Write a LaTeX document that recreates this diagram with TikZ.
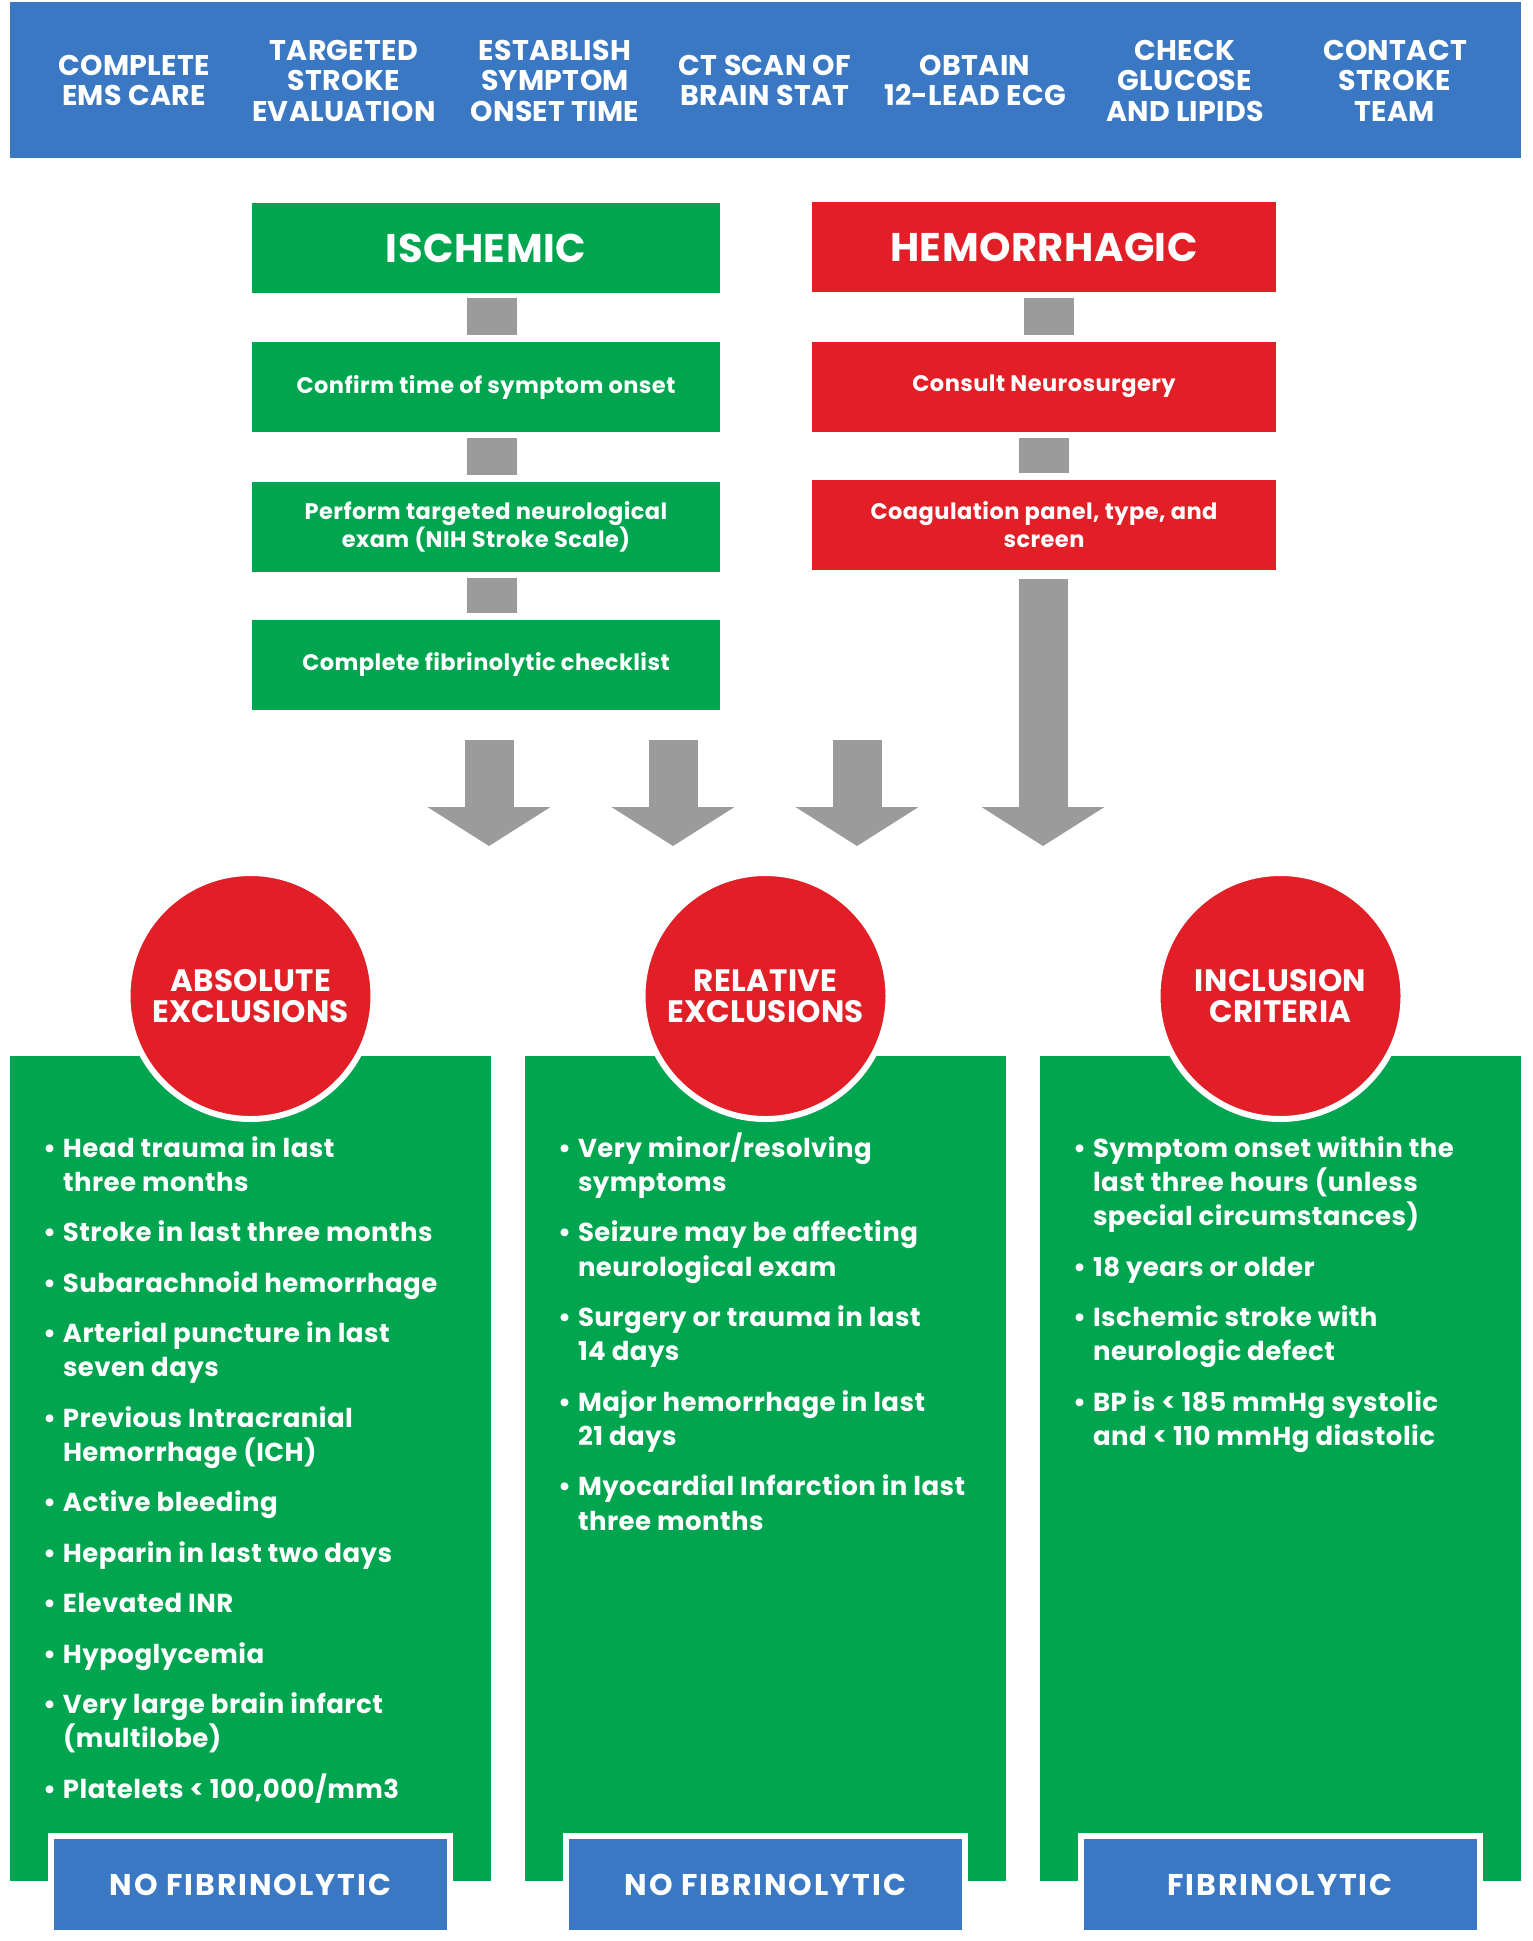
\documentclass[tikz,border=0pt]{standalone}
\usepackage{fontspec}
\setmainfont{Poppins}
\usetikzlibrary{arrows.meta}
\definecolor{hdrblue}{RGB}{58,120,196}
\definecolor{okgreen}{RGB}{0,165,80}
\definecolor{alertred}{RGB}{226,30,38}
\definecolor{bargrey}{RGB}{155,155,155}
\newcommand\bl{\makebox[20pt][l]{\textbullet}}
\newcommand\tracked[1]{\addfontfeature{LetterSpace=#1}}
\begin{document}
\begin{tikzpicture}[x=1pt,y=-1pt,
  every node/.style={text=white, inner sep=0pt, outer sep=0pt},
  hdr/.style={align=center, font=\bfseries\fontsize{28.5}{30.5}\selectfont\tracked{1}},
  stepbox/.style={minimum width=468pt, minimum height=90pt, align=center,
    font=\bfseries\fontsize{22.5}{28}\selectfont\tracked{2}},
  isch/.style={stepbox, fill=okgreen},
  hemo/.style={stepbox, fill=alertred},
  title/.style={font=\bfseries\fontsize{40}{42}\selectfont\tracked{1.2}},
  link/.style={draw=bargrey, line width=50pt},
  bigarrow/.style={draw=bargrey, line width=49pt,
    -{Triangle[width=123pt,length=39pt,line width=0pt,fill=bargrey]}},
  panel/.style={fill=okgreen, minimum width=481pt, minimum height=825pt},
  circ/.style={circle, fill=alertred, draw=white, line width=6pt,
    minimum size=246pt, align=center, font=\bfseries\fontsize{31}{31}\selectfont\tracked{1}},
  outcome/.style={fill=hdrblue, draw=white, line width=6pt, minimum width=399pt,
    minimum height=97pt, font=\bfseries\fontsize{30}{30}\selectfont\tracked{6.5}},
  items/.style={anchor=base west, align=left,
    font=\bfseries\fontsize{26}{34.3}\selectfont\tracked{1.8}}
]
\useasboundingbox (0,0) rectangle (1532,1941);
\fill[white] (0,0) rectangle (1532,1941);

% header band with the seven initial steps
\fill[hdrblue] (10,2) rectangle (1521,158);
\node[hdr] (h1) at (134,80.5) {COMPLETE\\EMS CARE};
\node[hdr] (h2) at (344,80.5) {TARGETED\\STROKE\\EVALUATION};
\node[hdr] (h3) at (555,80.5) {ESTABLISH\\SYMPTOM\\ONSET TIME};
\node[hdr] (h4) at (765,80.5) {CT SCAN OF\\BRAIN STAT};
\node[hdr] (h5) at (975,80.5) {OBTAIN\\12-LEAD ECG};
\node[hdr] (h6) at (1185,80.5) {CHECK\\GLUCOSE\\AND LIPIDS};
\node[hdr] (h7) at (1395,80.5) {CONTACT\\STROKE\\TEAM};

% ischemic branch
\node[isch, title] (isc) at (486,248) {ISCHEMIC};
\node[isch] (conf) at (486,387) {Confirm time of symptom onset};
\node[isch] (perf) at (486,526.5) {Perform targeted neurological\\exam (NIH Stroke Scale)};
\node[isch] (chk) at (486,664.5) {Complete fibrinolytic checklist};

% hemorrhagic branch
\node[hemo, title, minimum width=464pt] (hem) at (1044,247) {HEMORRHAGIC};
\node[hemo, minimum width=464pt] (cons) at (1044,386.5) {Consult Neurosurgery};
\node[hemo, minimum width=464pt] (coag) at (1044,525) {Coagulation panel, type, and\\screen};

% short grey links between the steps
\draw[link, shorten <=5pt, shorten >=7pt] ([xshift=6pt]isc.south) -- ([xshift=6pt]conf.north);
\draw[link, shorten <=6pt, shorten >=7pt] ([xshift=6pt]conf.south) -- ([xshift=6pt]perf.north);
\draw[link, shorten <=6pt, shorten >=7pt] ([xshift=6pt]perf.south) -- ([xshift=6pt]chk.north);
\draw[link, shorten <=6pt, shorten >=7pt] ([xshift=5pt]hem.south) -- ([xshift=5pt]cons.north);
\draw[link, shorten <=6pt, shorten >=7pt] (cons.south) -- (coag.north);

% big arrows down to the criteria
\coordinate (a1s) at (489,740);  \coordinate (a1e) at (489,846);
\coordinate (a2s) at (673,740);  \coordinate (a2e) at (673,846);
\coordinate (a3s) at (857,740);  \coordinate (a3e) at (857,846);
\coordinate (a4e) at (1043,846);
\draw[bigarrow] (a1s) -- (a1e);
\draw[bigarrow] (a2s) -- (a2e);
\draw[bigarrow] (a3s) -- (a3e);
\draw[bigarrow, shorten <=9pt] ([xshift=-1pt]coag.south) -- (a4e);

% criteria panels
\node[panel] (p1) at (250.5,1468.5) {};
\node[panel] (p2) at (765.5,1468.5) {};
\node[panel] (p3) at (1280.5,1468.5) {};

\node[circ] (c1) at (250.5,996) {ABSOLUTE\\EXCLUSIONS};
\node[circ] (c2) at (765.5,996) {RELATIVE\\EXCLUSIONS};
\node[circ] (c3) at (1280.5,996) {INCLUSION\\CRITERIA};

\node[items] (l1) at (43,1157) {\begin{tabular}[t]{@{}l@{}l@{}}
\bl & Head trauma in last\\ & three months\\[16.1pt]
\bl & Stroke in last three months\\[16.1pt]
\bl & Subarachnoid hemorrhage\\[16.1pt]
\bl & Arterial puncture in last\\ & seven days\\[16.1pt]
\bl & Previous Intracranial\\ & Hemorrhage (ICH)\\[16.1pt]
\bl & Active bleeding\\[16.1pt]
\bl & Heparin in last two days\\[16.1pt]
\bl & Elevated INR\\[16.1pt]
\bl & Hypoglycemia\\[16.1pt]
\bl & Very large brain infarct\\ & (multilobe)\\[16.1pt]
\bl & Platelets < 100,000/mm3
\end{tabular}};

\node[items] (l2) at (558,1157) {\begin{tabular}[t]{@{}l@{}l@{}}
\bl & Very minor/resolving\\ & symptoms\\[16.1pt]
\bl & Seizure may be affecting\\ & neurological exam\\[16.1pt]
\bl & Surgery or trauma in last\\ & 14 days\\[16.1pt]
\bl & Major hemorrhage in last\\ & 21 days\\[16.1pt]
\bl & Myocardial Infarction in last\\ & three months
\end{tabular}};

\node[items] (l3) at (1073,1157) {\begin{tabular}[t]{@{}l@{}l@{}}
\bl & Symptom onset within the\\ & last three hours (unless\\ & special circumstances)\\[16.1pt]
\bl & 18 years or older\\[16.1pt]
\bl & Ischemic stroke with\\ & neurologic defect\\[16.1pt]
\bl & BP is < 185 mmHg systolic\\ & and < 110 mmHg diastolic
\end{tabular}};

% outcomes
\node[outcome] (o1) at (250.5,1884.5) {NO FIBRINOLYTIC};
\node[outcome] (o2) at (765.5,1884.5) {NO FIBRINOLYTIC};
\node[outcome] (o3) at (1280,1884.5) {FIBRINOLYTIC};
\end{tikzpicture}
\end{document}
